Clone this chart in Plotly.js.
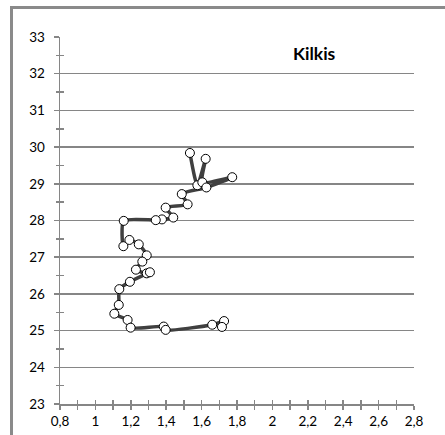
<!DOCTYPE html>
<html>
<head>
<meta charset="utf-8">
<script src="https://cdn.plot.ly/plotly-3.0.1.min.js"></script>
<style>
  html, body { margin: 0; padding: 0; background: #fff; }
  #wrap { position: relative; width: 445px; height: 435px; overflow: hidden; }
  #chart { position: absolute; left: 0; top: 0; width: 445px; height: 435px; }
  #frame { position: absolute; left: 10px; top: 6px; width: 440px; height: 440px;
           border-top: 3px solid #8a8a8a; border-left: 3px solid #8a8a8a; pointer-events: none; }
</style>
</head>
<body>
<div id="wrap">
  <div id="chart"></div>
  <div id="frame"></div>
</div>
<script>
// Data (x value, y value), in drawing order
const xValues = [1.534, 1.576, 1.623, 1.604, 1.773, 1.627, 1.488, 1.521, 1.397, 1.440, 1.376, 1.341, 1.160,
                 1.158, 1.192, 1.245, 1.290, 1.265, 1.229, 1.290, 1.308, 1.195, 1.135, 1.132, 1.107,
                 1.182, 1.199, 1.386, 1.397, 1.660, 1.727, 1.715];
const yValues = [29.84, 28.96, 29.68, 29.04, 29.18, 28.90, 28.72, 28.44, 28.35, 28.08, 28.03, 28.01, 27.99,
                 27.30, 27.47, 27.35, 27.05, 26.88, 26.66, 26.56, 26.59, 26.33, 26.13, 25.70, 25.46,
                 25.29, 25.08, 25.11, 25.02, 25.16, 25.26, 25.10];
const chartTitle = "Kilkis";
const xRange = [0.8, 2.8];
const yRange = [23, 33];

const axisColor = "#868686";
const fontFam = "Lato, 'Open Sans', sans-serif";

const traces = [
  {
    x: xValues, y: yValues, type: "scatter", mode: "lines+markers",
    line: { color: "#404040", width: 3.5, shape: "spline", smoothing: 0.6 },
    marker: { symbol: "circle", size: 9, color: "#ffffff", line: { color: "#000000", width: 1 } },
    hoverinfo: "skip", showlegend: false
  },
  { x: [], y: [], xaxis: "x2", yaxis: "y2", type: "scatter", showlegend: false }
];

const layout = {
  width: 445, height: 435,
  margin: { l: 60, r: 31, t: 37, b: 31, pad: 0 },
  paper_bgcolor: "#ffffff", plot_bgcolor: "#ffffff",
  separators: ", ",
  font: { family: fontFam, size: 13, color: "#000000" },
  showlegend: false,
  xaxis: {
    range: xRange, dtick: 0.2, tick0: 0.8, showgrid: false, zeroline: false,
    showline: true, linecolor: axisColor, linewidth: 1.5,
    ticks: "outside", ticklen: 4, tickwidth: 1.5, tickcolor: axisColor,
    minor: { dtick: 0.1, ticks: "outside", ticklen: 4, tickwidth: 1.5, tickcolor: axisColor, showgrid: false },
    tickfont: { family: fontFam, size: 13.5, color: "#000" }, fixedrange: true
  },
  yaxis: {
    range: yRange, dtick: 1, showgrid: true, gridcolor: axisColor, gridwidth: 1.5, zeroline: false,
    showline: true, linecolor: axisColor, linewidth: 1.5,
    ticks: "outside", ticklen: 5, tickwidth: 1.5, tickcolor: axisColor, ticklabelstandoff: 6,
    minor: { dtick: 0.5, ticks: "outside", ticklen: 3, tickwidth: 1.5, tickcolor: axisColor, showgrid: false },
    tickfont: { family: fontFam, size: 13.5, color: "#000" }, fixedrange: true
  },
  xaxis2: {
    overlaying: "x", anchor: "y2", range: xRange, dtick: 0.1, tick0: 0.8, showgrid: false, zeroline: false,
    showline: false, ticks: "inside", ticklen: 4, tickwidth: 1.5, tickcolor: axisColor, showticklabels: false
  },
  yaxis2: {
    overlaying: "y", anchor: "x2", range: yRange, dtick: 0.5, showgrid: false, zeroline: false,
    showline: false, ticks: "inside", ticklen: 4, tickwidth: 1.5, tickcolor: axisColor, showticklabels: false
  },
  annotations: [{
    text: "<b>" + chartTitle + "</b>", x: 0.72, y: 0.955, xref: "paper", yref: "paper",
    xanchor: "center", yanchor: "middle", showarrow: false,
    font: { family: fontFam, size: 17.5, color: "#000" }
  }]
};

Plotly.newPlot("chart", traces, layout, { staticPlot: true, displayModeBar: false });
</script>
</body>
</html>
